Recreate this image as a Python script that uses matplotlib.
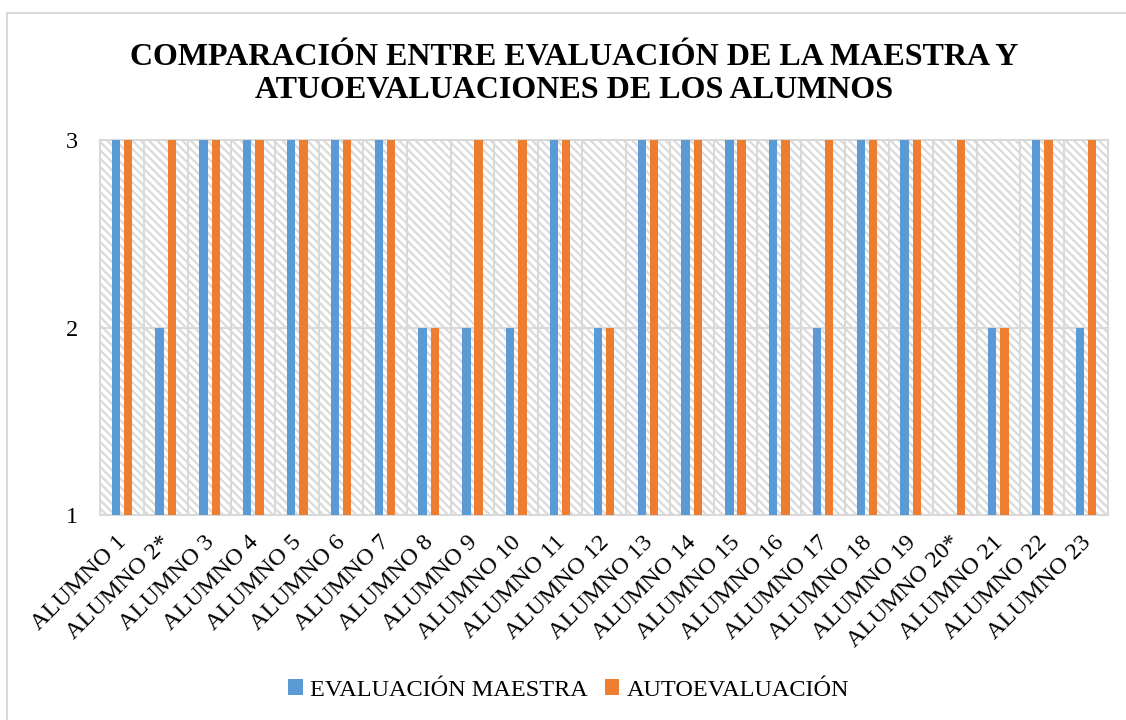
import matplotlib.pyplot as plt
import matplotlib.patches as mpatches
import matplotlib.transforms as mtransforms
import numpy as np

plt.rcParams['font.family'] = ['Liberation Serif', 'DejaVu Serif']
plt.rcParams['hatch.color'] = '#dadada'
plt.rcParams['hatch.linewidth'] = 1.6

alumnos = ['ALUMNO 1', 'ALUMNO 2*', 'ALUMNO 3', 'ALUMNO 4', 'ALUMNO 5', 'ALUMNO 6',
           'ALUMNO 7', 'ALUMNO 8', 'ALUMNO 9', 'ALUMNO 10', 'ALUMNO 11', 'ALUMNO 12',
           'ALUMNO 13', 'ALUMNO 14', 'ALUMNO 15', 'ALUMNO 16', 'ALUMNO 17', 'ALUMNO 18',
           'ALUMNO 19', 'ALUMNO 20*', 'ALUMNO 21', 'ALUMNO 22', 'ALUMNO 23']
maestra = [3, 2, 3, 3, 3, 3, 3, 2, 2, 2, 3, 2, 3, 3, 3, 3, 2, 3, 3, np.nan, 2, 3, 2]
auto = [3, 3, 3, 3, 3, 3, 3, 2, 3, 3, 3, 2, 3, 3, 3, 3, 3, 3, 3, 3, 2, 3, 3]

fig = plt.figure(figsize=(11.26, 7.2), dpi=100)
ax = fig.add_axes([100 / 1126, 1 - 515 / 720, 1008 / 1126, 375 / 720])

# outer chart border
fig.patches.append(mpatches.Rectangle((7 / 1126, -0.05), 1.2, 1 - 13 / 720 + 0.05,
                                      transform=fig.transFigure, fill=False,
                                      edgecolor='#d9d9d9', linewidth=1.5))

ax.patch.set_facecolor('white')
ax.patch.set_hatch('\\\\\\\\')
ax.patch.set_edgecolor('#dadada')

x = np.arange(len(alumnos))
w = 0.19
base = 1
ax.bar(x - 0.14, np.array(maestra) - base, w, bottom=base, color='#5b9bd5',
       label='EVALUACIÓN MAESTRA', zorder=3)
ax.bar(x + 0.14, np.array(auto) - base, w, bottom=base, color='#ed7d31',
       label='AUTOEVALUACIÓN', zorder=3)

ax.set_xlim(-0.5, len(alumnos) - 0.5)
ax.set_ylim(1, 3)
ax.set_yticks([1, 2, 3])
ax.set_xticks(x)
ax.set_xticklabels(alumnos, rotation=45, ha='right', va='top', fontsize=17.5)
ax.tick_params(axis='y', labelsize=17.5, length=0, pad=16)
ax.tick_params(axis='x', length=0, pad=12)
shift = mtransforms.ScaledTranslation(9 / 100, 0, fig.dpi_scale_trans)
for lab in ax.get_xticklabels():
    lab.set_transform(lab.get_transform() + shift)

for xv in np.arange(0.5, len(alumnos) - 0.5, 1):
    ax.axvline(xv, color='#d9d9d9', linewidth=1.5, zorder=1)
ax.axhline(2, color='#d9d9d9', linewidth=1.5, zorder=1)
for s in ax.spines.values():
    s.set_color('#d9d9d9')
    s.set_linewidth(1.5)

fig.text(0.51, 1 - 74 / 720, 'COMPARACIÓN ENTRE EVALUACIÓN DE LA MAESTRA Y\nATUOEVALUACIONES DE LOS ALUMNOS',
         ha='center', va='center', fontsize=23, fontweight='bold', linespacing=1.2)

fig.legend(loc='center', bbox_to_anchor=(0.505, 1 - 690 / 720), ncol=2, frameon=False,
           fontsize=17.5, handlelength=0.6, handleheight=0.6, columnspacing=0.7,
           handletextpad=0.3)

fig.savefig('out.png', dpi=100)
